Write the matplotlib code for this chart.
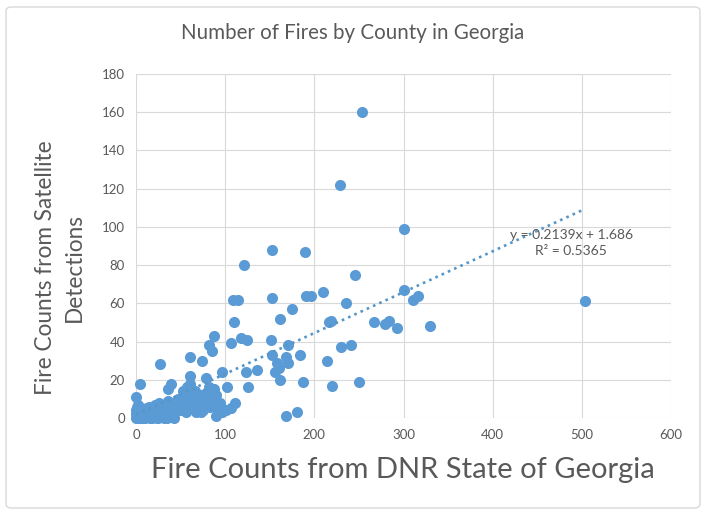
import matplotlib
matplotlib.use("Agg")
import matplotlib.pyplot as plt
from matplotlib.patches import FancyBboxPatch
import numpy as np

plt.rcParams['font.family'] = ['Lato', 'DejaVu Sans']

# Data (DNR counts, satellite counts)
dnr = [254, 229, 300, 152, 190, 121, 246, 300, 210, 191, 196, 152, 316, 311, 109, 114,
       503, 236, 175, 162, 219, 217, 267, 284, 279, 110, 293, 330,
       87, 118, 125, 151, 82, 106, 171, 241, 230, 85, 153, 184, 168, 60, 74, 214, 158,
       171, 27, 160, 136, 156, 97, 123, 61, 79, 162, 187, 250, 4, 39, 60, 220, 126, 102,
       57, 82, 36, 87, 53, 90, 71, 66, 0, 94, 71, 111, 2, 81, 92, 106, 101, 96, 73, 90,
       181, 168,
       0, 1, 2, 3, 4, 5, 6, 7, 8, 9, 10, 11, 12, 13, 14, 15, 16, 17, 18, 19, 20, 21, 22,
       23, 24, 25, 26, 27, 28, 29, 30, 31, 32, 33, 35, 36, 37, 38, 40, 41, 42, 43, 44, 45,
       47, 48, 50, 52, 53, 55, 56, 58, 60, 61, 63, 64, 66, 67, 68, 70, 72, 73, 75, 76, 78,
       80, 83, 85, 88,
       0, 0, 1, 2, 3, 5, 6, 8, 10, 12, 14, 18, 20, 25, 30, 35, 40, 43]
sat = [160, 122, 99, 88, 87, 80, 75, 67, 66, 64, 64, 63, 64, 62, 62, 62,
       61, 60, 57, 52, 51, 50, 50, 51, 49, 50, 47, 48,
       43, 42, 41, 41, 38, 39, 38, 38, 37, 35, 33, 33, 32, 32, 30, 30, 29,
       29, 28, 26, 25, 24, 24, 24, 22, 21, 20, 19, 19, 18, 18, 18, 17, 16, 16,
       16, 16, 15, 15, 14, 12, 12, 11, 11, 8, 8, 8, 7, 7, 5, 5, 4, 3, 3, 1,
       3, 1,
       0, 1, 0, 2, 1, 3, 0, 2, 4, 1, 0, 3, 5, 2, 1, 6, 0, 3, 2, 4, 1, 7, 3,
       0, 5, 2, 8, 4, 1, 6, 3, 0, 7, 2, 5, 9, 1, 4, 6, 2, 8, 0, 3, 5,
       10, 7, 4, 9, 6, 11, 3, 8, 13, 5, 10, 7, 14, 3, 9, 6, 12, 10, 4, 8, 13,
       10, 6, 11, 9,
       2, 4, 6, 3, 0, 1, 5, 0, 2, 1, 4, 0, 5, 0, 1, 0, 1, 7]

slope = 0.2139
intercept = 1.686
r2 = 0.5365

x_ticks = [0, 100, 200, 300, 400, 500, 600]
y_ticks = [0, 20, 40, 60, 80, 100, 120, 140, 160, 180]

grey = '#595959'
blue = '#5B9BD5'

fig = plt.figure(figsize=(7.06, 5.15), dpi=100)
fig.patch.set_facecolor('white')

border = FancyBboxPatch((6 / 706, 7 / 515), 694 / 706, 501 / 515,
                        boxstyle="round,pad=0,rounding_size=0.008",
                        transform=fig.transFigure, facecolor='none',
                        edgecolor='#D9D9D9', linewidth=1.0, zorder=-1)
fig.patches.append(border)

ax = fig.add_axes([136 / 706, (515 - 418) / 515, 535 / 706, 344 / 515])
ax.set_facecolor('none')
ax.set_xlim(0, 600)
ax.set_ylim(0, 180)
ax.set_xticks(x_ticks)
ax.set_yticks(y_ticks)
ax.grid(True, color='#D9D9D9', linewidth=0.8)
ax.set_axisbelow(True)
for s in ax.spines.values():
    s.set_visible(False)
ax.tick_params(length=0, labelsize=9.5, labelcolor=grey, pad=8)

ax.scatter(dnr, sat, s=64, color=blue, zorder=3, linewidths=0, clip_on=False)

xt = np.array([0, max(dnr)])
ax.plot(xt, slope * xt + intercept, linestyle=(0, (1, 1.6)), color='#5596C8',
        linewidth=1.9, zorder=4)

ax.text(488, 96, f"y = {slope}x + {intercept}", ha='center', va='center',
        fontsize=10, color=grey, zorder=5)
ax.text(488, 87.4, f"R² = {r2}", ha='center', va='center',
        fontsize=10, color=grey, zorder=5)

fig.text(353 / 706, 1 - 33 / 515, "Number of Fires by County in Georgia",
         ha='center', va='center', fontsize=14.8, color=grey)
fig.text(403 / 706, 1 - 470 / 515, "Fire Counts from DNR State of Georgia",
         ha='center', va='center', fontsize=21, color=grey)
fig.text(60 / 706, 1 - 268 / 515, "Fire Counts from Satellite\nDetections",
         ha='center', va='center', fontsize=16.3, color=grey, rotation=90,
         linespacing=1.45, multialignment='center')

fig.savefig('out.png', dpi=100, facecolor='white')
